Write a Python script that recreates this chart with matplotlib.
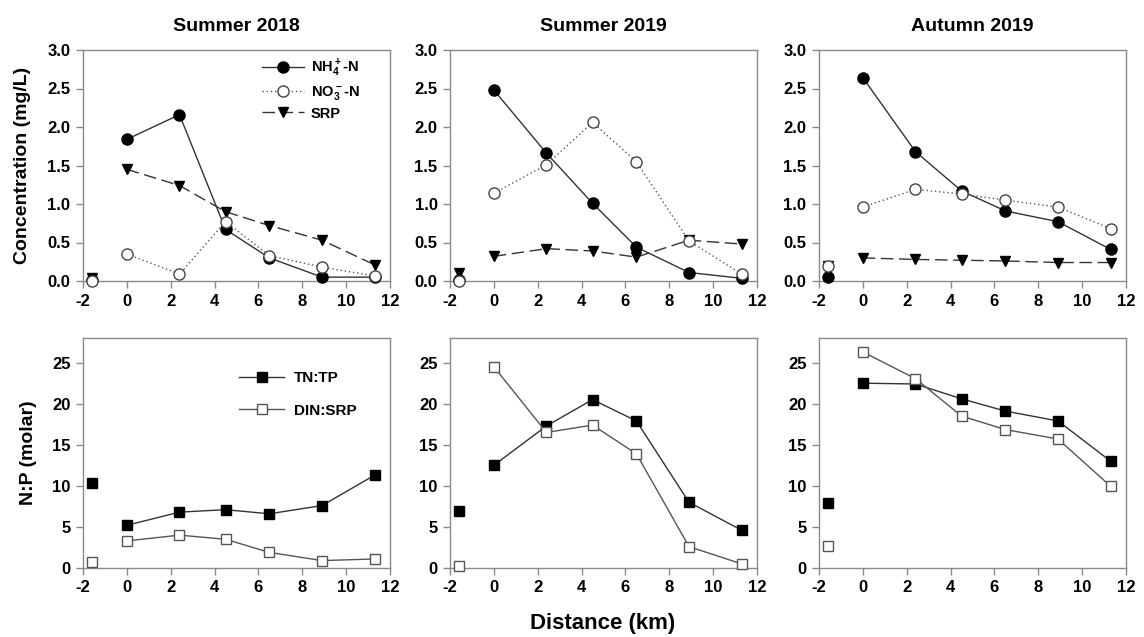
import matplotlib
matplotlib.use("Agg")
import matplotlib.pyplot as plt

plt.rcParams['font.family'] = ['Liberation Sans', 'DejaVu Sans']
plt.rcParams['mathtext.fontset'] = 'custom'
plt.rcParams['mathtext.rm'] = 'Liberation Sans:bold'
plt.rcParams['mathtext.bf'] = 'Liberation Sans:bold'
plt.rcParams['mathtext.default'] = 'regular'

# Sampling stations along the river (km); -1.6 is the upstream reference site
distance = [-1.6, 0, 2.4, 4.5, 6.5, 8.9, 11.3]

seasons = ["Summer 2018", "Summer 2019", "Autumn 2019"]

# Nutrient concentrations (mg/L)
nh4 = {
    "Summer 2018": [0.01, 1.84, 2.16, 0.67, 0.30, 0.05, 0.05],
    "Summer 2019": [0.01, 2.48, 1.66, 1.01, 0.44, 0.11, 0.035],
    "Autumn 2019": [0.05, 2.64, 1.68, 1.17, 0.91, 0.77, 0.41],
}
no3 = {
    "Summer 2018": [0.00, 0.35, 0.09, 0.77, 0.33, 0.18, 0.065],
    "Summer 2019": [0.00, 1.14, 1.51, 2.06, 1.55, 0.52, 0.09],
    "Autumn 2019": [0.19, 0.96, 1.19, 1.13, 1.05, 0.96, 0.68],
}
srp = {
    "Summer 2018": [0.04, 1.45, 1.24, 0.90, 0.72, 0.53, 0.21],
    "Summer 2019": [0.11, 0.32, 0.42, 0.39, 0.31, 0.53, 0.48],
    "Autumn 2019": [0.20, 0.30, 0.28, 0.27, 0.26, 0.24, 0.24],
}

# Molar N:P ratios
tn_tp = {
    "Summer 2018": [10.3, 5.2, 6.8, 7.1, 6.6, 7.6, 11.3],
    "Summer 2019": [7.0, 12.5, 17.3, 20.5, 17.9, 8.0, 4.6],
    "Autumn 2019": [7.9, 22.5, 22.4, 20.6, 19.1, 17.9, 13.0],
}
din_srp = {
    "Summer 2018": [0.75, 3.3, 4.0, 3.5, 1.9, 0.9, 1.1],
    "Summer 2019": [0.2, 24.5, 16.5, 17.4, 13.9, 2.6, 0.5],
    "Autumn 2019": [2.7, 26.3, 23.05, 18.5, 16.85, 15.7, 9.95],
}

x_ticks = [-2, 0, 2, 4, 6, 8, 10, 12]
conc_ticks = [0.0, 0.5, 1.0, 1.5, 2.0, 2.5, 3.0]
ratio_ticks = [0, 5, 10, 15, 20, 25]

W, H = 1144, 637
fig = plt.figure(figsize=(W / 100, H / 100), dpi=100)

lefts = [83, 450, 819]
width = 307
top_row = (50, 281)
bot_row = (338, 568)

frame_col = "#8a8a8a"
line_col = "#333333"


def make_axes(left, rows):
    t, b = rows
    return fig.add_axes([left / W, 1 - b / H, width / W, (b - t) / H])


def style_axes(ax, yticks, ylim, yfmt):
    ax.set_xlim(-2, 12)
    ax.set_ylim(*ylim)
    ax.set_xticks(x_ticks)
    ax.set_xticklabels([str(v) for v in x_ticks], fontweight='bold', fontsize=12)
    ax.set_yticks(yticks)
    ax.set_yticklabels([yfmt.format(v) for v in yticks], fontweight='bold', fontsize=12)
    ax.tick_params(direction='out', length=5, width=1, color=frame_col, pad=4)
    for s in ax.spines.values():
        s.set_color(frame_col)
        s.set_linewidth(1.0)


ms_c = 8
ms_t = 7.5
ms_s = 7

for i, season in enumerate(seasons):
    # concentrations
    ax = make_axes(lefts[i], top_row)
    ax.plot(distance[1:], nh4[season][1:], color=line_col, lw=1.0, ls='-',
            marker='o', ms=ms_c, mfc='black', mec='black', label=r'NH$_4^+$-N', zorder=3)
    ax.plot(distance[:1], nh4[season][:1], ls='none', marker='o', ms=ms_c,
            mfc='black', mec='black', zorder=3)
    ax.plot(distance[1:], no3[season][1:], color='#555555', lw=1.0, ls=(0, (1, 2)),
            marker='o', ms=ms_c, mfc='white', mec='#444444', mew=1.0,
            label=r'NO$_3^-$-N', zorder=4)
    ax.plot(distance[:1], no3[season][:1], ls='none', marker='o', ms=ms_c,
            mfc='white', mec='#444444', mew=1.0, zorder=4)
    ax.plot(distance[1:], srp[season][1:], color=line_col, lw=1.0, ls=(0, (9, 4)),
            marker='v', ms=ms_t, mfc='black', mec='black', label='SRP', zorder=3)
    ax.plot(distance[:1], srp[season][:1], ls='none', marker='v', ms=ms_t,
            mfc='black', mec='black', zorder=3)
    style_axes(ax, conc_ticks, (0, 3.0), "{:.1f}")
    ax.set_title(season, fontsize=14, fontweight='bold', pad=14)
    for ln in ax.lines:
        ln.set_clip_on(False)
    if i == 0:
        ax.set_ylabel("Concentration (mg/L)", fontsize=14, fontweight='bold')
        ax.yaxis.set_label_coords(-0.17, 0.5)
        ax.legend(loc='upper right', bbox_to_anchor=(0.935, 1.01), frameon=False,
                  prop={'size': 10.5, 'weight': 'bold'}, handlelength=2.9,
                  handletextpad=0.45, labelspacing=0.32, borderaxespad=0.3)

    # ratios
    ax2 = make_axes(lefts[i], bot_row)
    ax2.plot(distance[1:], tn_tp[season][1:], color=line_col, lw=1.0,
             marker='s', ms=ms_s, mfc='black', mec='black', label='TN:TP', zorder=3)
    ax2.plot(distance[:1], tn_tp[season][:1], ls='none', marker='s', ms=ms_s,
             mfc='black', mec='black', zorder=3)
    ax2.plot(distance[1:], din_srp[season][1:], color='#555555', lw=1.0,
             marker='s', ms=ms_s, mfc='white', mec='#555555', mew=1.0,
             label='DIN:SRP', zorder=4)
    ax2.plot(distance[:1], din_srp[season][:1], ls='none', marker='s', ms=ms_s,
             mfc='white', mec='#555555', mew=1.0, zorder=4)
    style_axes(ax2, ratio_ticks, (0, 28), "{:d}")
    for ln in ax2.lines:
        ln.set_clip_on(False)
    if i == 0:
        ax2.set_ylabel("N:P (molar)", fontsize=14, fontweight='bold')
        ax2.yaxis.set_label_coords(-0.15, 0.5)
        ax2.legend(loc='upper right', bbox_to_anchor=(0.92, 0.895), frameon=False,
                   prop={'size': 11, 'weight': 'bold'}, handlelength=3.0,
                   handletextpad=0.6, labelspacing=1.2, borderaxespad=0.2)

fig.text(603 / W, 1 - 623 / H, "Distance (km)", ha='center', va='center',
         fontsize=16, fontweight='bold')

fig.savefig("out.png", dpi=100, facecolor='white')
